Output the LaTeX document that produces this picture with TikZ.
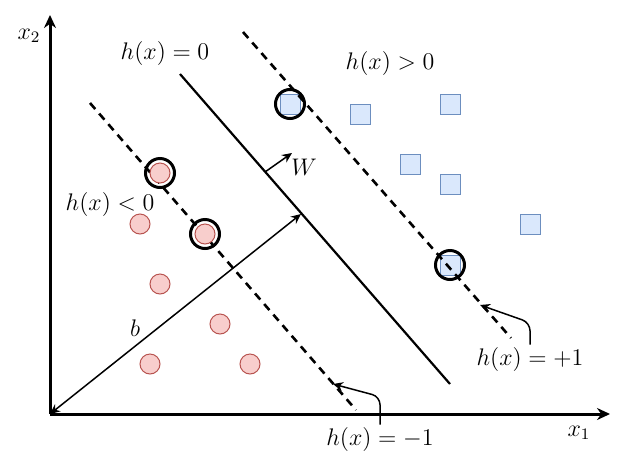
\documentclass[tikz,border=0pt]{standalone}
\usepackage{tikz}
\usetikzlibrary{arrows.meta}
\definecolor{negfill}{HTML}{F8CECC}
\definecolor{negdraw}{HTML}{B85450}
\definecolor{posfill}{HTML}{DAE8FC}
\definecolor{posdraw}{HTML}{6C8EBF}
\tikzset{
	negpt/.style={circle, draw=negdraw, fill=negfill, line width=0.5pt, minimum size=10pt, inner sep=0pt},
	pospt/.style={rectangle, draw=posdraw, fill=posfill, line width=0.5pt, minimum size=10pt, inner sep=0pt},
	svring/.style={circle, draw, line width=1.5pt, minimum size=14.5pt, inner sep=0pt},
	axis/.style={line width=1.5pt, -{Stealth[length=6.5pt,width=6pt]}},
	margin/.style={line width=1.3pt, dash pattern=on 4pt off 3pt},
	vecline/.style={line width=0.75pt},
	callout/.style={line width=0.75pt, rounded corners=4pt, -{Stealth[length=5pt,width=4.5pt]}},
	lbl/.style={inner sep=1pt}
}
\begin{document}
\begin{tikzpicture}[x=0.5pt, y=-0.5pt, font=\fontsize{11.5}{14}\selectfont]
			%%%%% START %%%%%
			\useasboundingbox (0, 0) rectangle (621, 472);
			
			% axes
			\coordinate (O) at (50, 414);
			\coordinate (xend) at (610, 414);
			\coordinate (yend) at (50, 15);
			\draw[axis] (O) -- (xend);
			\draw[axis] (O) -- (yend);
			\node[lbl] (x1) at (579, 433) {$x_1$};
			\node[lbl] (x2) at (29, 36) {$x_2$};
			
			% hyperplanes
			\coordinate (hza) at (180, 74);
			\coordinate (hzb) at (450, 384);
			\coordinate (hma) at (90, 103);
			\coordinate (hmb) at (356, 410);
			\coordinate (hpa) at (243, 32);
			\coordinate (hpb) at (511, 338);
			\draw[line width=1.1pt] (hza) -- (hzb);
			\draw[margin] (hma) -- (hmb);
			
			% class h(x) < 0
			\node[negpt] (n1) at (160, 173) {};
			\node[negpt] (n2) at (205, 234) {};
			\node[negpt] (n3) at (140, 224) {};
			\node[negpt] (n4) at (160, 284) {};
			\node[negpt] (n5) at (220, 324) {};
			\node[negpt] (n6) at (150, 364) {};
			\node[negpt] (n7) at (250, 364) {};
			
			% class h(x) > 0
			\node[pospt] (p1) at (290, 104) {};
			\node[pospt] (p2) at (360, 114) {};
			\node[pospt] (p3) at (450, 104) {};
			\node[pospt] (p4) at (410, 164) {};
			\node[pospt] (p5) at (450, 184) {};
			\node[pospt] (p6) at (530, 224) {};
			\node[pospt] (p7) at (450, 265) {};
			\draw[margin] (hpa) -- (hpb);
			
			% support vectors
			\node[svring] (sv1) at (n1) {};
			\node[svring] (sv2) at (n2) {};
			\node[svring] (sv3) at (p1) {};
			\node[svring] (sv4) at (p7) {};
			
			% W and b
			\coordinate (wa) at (265, 172);
			\coordinate (wb) at (292, 153);
			\draw[vecline, -{Stealth[length=5pt,width=4.5pt]}] (wa) -- (wb);
			\node[lbl] (wlbl) at (304, 167) {$W$};
			\coordinate (bend) at (301, 214);
			\draw[vecline, {Stealth[length=5pt,width=4.5pt]}-{Stealth[length=5pt,width=4.5pt]}] (O) -- (bend);
			\node[lbl] (blbl) at (135, 328) {$b$};
			
			% labels
			\node[lbl] (lz) at (165, 53) {$h(x)=0$};
			\node[lbl] (lpos) at (390, 63) {$h(x)>0$};
			\node[lbl] (lneg) at (110, 204) {$h(x)<0$};
			\node[lbl] (lp1) at (530, 359) {$h(x)=+1$};
			\node[lbl] (lm1) at (380, 439) {$h(x)=-1$};
			
			% callouts
			\coordinate (tp1) at (480, 305);
			\coordinate (tm1) at (333, 384);
			\draw[callout] (lp1.north) -- ++(0, -22) -- (tp1);
			\draw[callout] (lm1.north) -- ++(0, -28) -- (tm1);
			
			%%%%% END %%%%%
\end{tikzpicture}
\end{document}
